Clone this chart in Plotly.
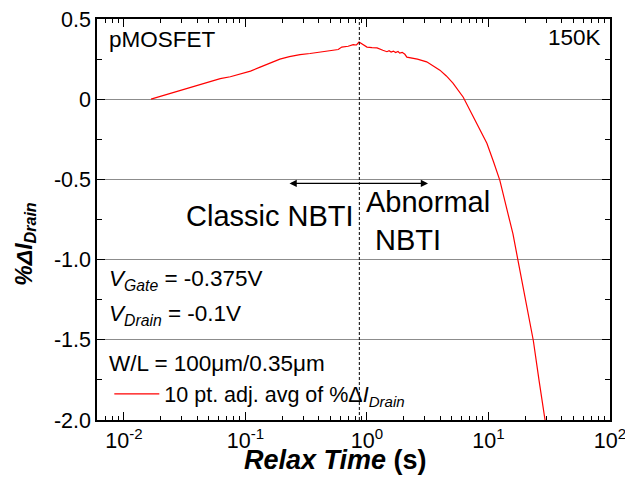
import math
import plotly.graph_objects as go

# ---- data ----
relax_time = [0.0167, 0.0215, 0.0289, 0.037, 0.0482, 0.062, 0.075, 0.090, 0.11, 0.132,
              0.16, 0.192, 0.23, 0.281, 0.34, 0.41, 0.525, 0.58, 0.62, 0.70, 0.77,
              0.82, 0.86, 0.92, 1.0, 1.1, 1.21, 1.35, 1.46, 1.52, 1.58, 1.65, 1.72,
              1.8, 1.86, 1.95, 2.05, 2.13, 2.6, 3.1, 3.5, 3.98, 4.5, 5.1, 6.2, 7.4,
              8.5, 9.7, 11.0, 12.4, 14.0, 15.9, 17.5, 20.2, 23.4, 26.1, 29.2]
delta_idrain = [0.0, 0.025, 0.056, 0.08, 0.106, 0.128, 0.14, 0.156, 0.175, 0.2,
                0.225, 0.25, 0.265, 0.278, 0.285, 0.294, 0.306, 0.31, 0.325, 0.33, 0.34,
                0.338, 0.356, 0.34, 0.325, 0.322, 0.32, 0.305, 0.296, 0.302, 0.294, 0.3, 0.291,
                0.297, 0.287, 0.292, 0.28, 0.262, 0.25, 0.233, 0.21, 0.181, 0.145, 0.1, 0.0125, -0.1,
                -0.19, -0.275, -0.39, -0.506, -0.67, -0.84, -1.006, -1.256, -1.506, -1.756, -2.0]

x_tickvals = [0.01, 0.1, 1, 10, 100]
x_ticktext = ["10<sup>-2</sup>", "10<sup>-1</sup>", "10<sup>0</sup>", "10<sup>1</sup>", "10<sup>2</sup>"]
x_minor_vals = [m * 10 ** e for e in range(-3, 2) for m in range(2, 10)]
y_tickvals = [0.5, 0, -0.5, -1.0, -1.5, -2.0]
y_ticktext = ["0.5", "0", "-0.5", "-1.0", "-1.5", "-2.0"]

divider_time = 0.865
arrow_left = 0.224
arrow_right = 3.18
arrow_level = -0.525

FONT = "Arial, Liberation Sans, sans-serif"

fig = go.Figure()
fig.add_trace(go.Scatter(
    x=relax_time, y=delta_idrain, mode="lines",
    line=dict(color="#ff0000", width=1.2),
    name="10 pt. adj. avg of %Δ<i>I</i><sub><i>Drain</i></sub>",
))

# dashed divider
fig.add_shape(type="line", xref="x", yref="paper", x0=divider_time, x1=divider_time,
              y0=0, y1=1, line=dict(color="black", width=1, dash="3px,2px"))

# double arrow
fig.add_annotation(x=math.log10(arrow_right), y=arrow_level, ax=math.log10(arrow_left), ay=arrow_level,
                   xref="x", yref="y", axref="x", ayref="y", text="", showarrow=True,
                   arrowhead=2, arrowside="end+start", arrowwidth=1.2, arrowsize=1.2, arrowcolor="black")

def txt(text, x, y, size, xanchor="left", yanchor="middle", **kw):
    fig.add_annotation(text=text, x=x, y=y, xref="paper", yref="paper", showarrow=False,
                       xanchor=xanchor, yanchor=yanchor,
                       font=dict(family=FONT, size=size, color="black"), **kw)

txt("pMOSFET", 0.0195, 0.948, 22.5)
txt("150K", 0.986, 0.955, 22.5, xanchor="right")
txt("Classic NBTI", 0.337, 0.509, 29, xanchor="center")
txt("Abnormal", 0.52, 0.544, 29)
txt("NBTI", 0.538, 0.449, 29)
txt("<i>V</i><sub><i>Gate</i></sub> = -0.375V", 0.0195, 0.35, 22.5)
txt("<i>V</i><sub><i>Drain</i></sub> = -0.1V", 0.0195, 0.263, 22.5)
txt("W/L = 100μm/0.35μm", 0.0195, 0.142, 22.5)
txt("<b><i>%ΔI</i></b><sub><b><i>Drain</i></b></sub>", -0.14, 0.44, 23, xanchor="center", textangle=-90)
txt("<b><i>Relax Time</i> (s)</b>", 0.464, -0.1, 27, xanchor="center")

fig.update_layout(
    width=625, height=479,
    margin=dict(l=97, r=15, t=19, b=59, autoexpand=False),
    paper_bgcolor="white", plot_bgcolor="white",
    font=dict(family=FONT, size=21, color="black"),
    showlegend=True,
    legend=dict(x=0.024, y=0.065, xanchor="left", yanchor="middle", itemwidth=45,
                bgcolor="rgba(0,0,0,0)", font=dict(family=FONT, size=21.5)),
)
fig.update_xaxes(
    type="log", range=[math.log10(0.006), 2], automargin=False, ticklabeloverflow="allow",
    tickmode="array", tickvals=x_tickvals, ticktext=x_ticktext,
    ticks="inside", ticklen=8, tickwidth=1, tickcolor="black",
    minor=dict(tickmode="array", tickvals=x_minor_vals, ticks="inside", ticklen=4, tickcolor="black"),
    showline=True, linecolor="black", linewidth=1.5, mirror="ticks",
    showgrid=False, zeroline=False,
    tickfont=dict(family=FONT, size=21.5),
)
fig.update_yaxes(
    range=[-2.0, 0.5], automargin=False,
    tickmode="array", tickvals=y_tickvals, ticktext=y_ticktext,
    ticks="inside", ticklen=8, tickwidth=1, tickcolor="black",
    minor=dict(dtick=0.25, ticks="inside", ticklen=5, tickcolor="black", showgrid=False),
    showline=True, linecolor="black", linewidth=1.5, mirror="ticks",
    showgrid=True, gridcolor="#8c8c8c", gridwidth=1, zeroline=False,
    tickfont=dict(family=FONT, size=21.5),
)

fig.write_html("out.html", config={"displayModeBar": False},
               post_script="document.body.style.margin='0';document.body.style.overflow='hidden';")
